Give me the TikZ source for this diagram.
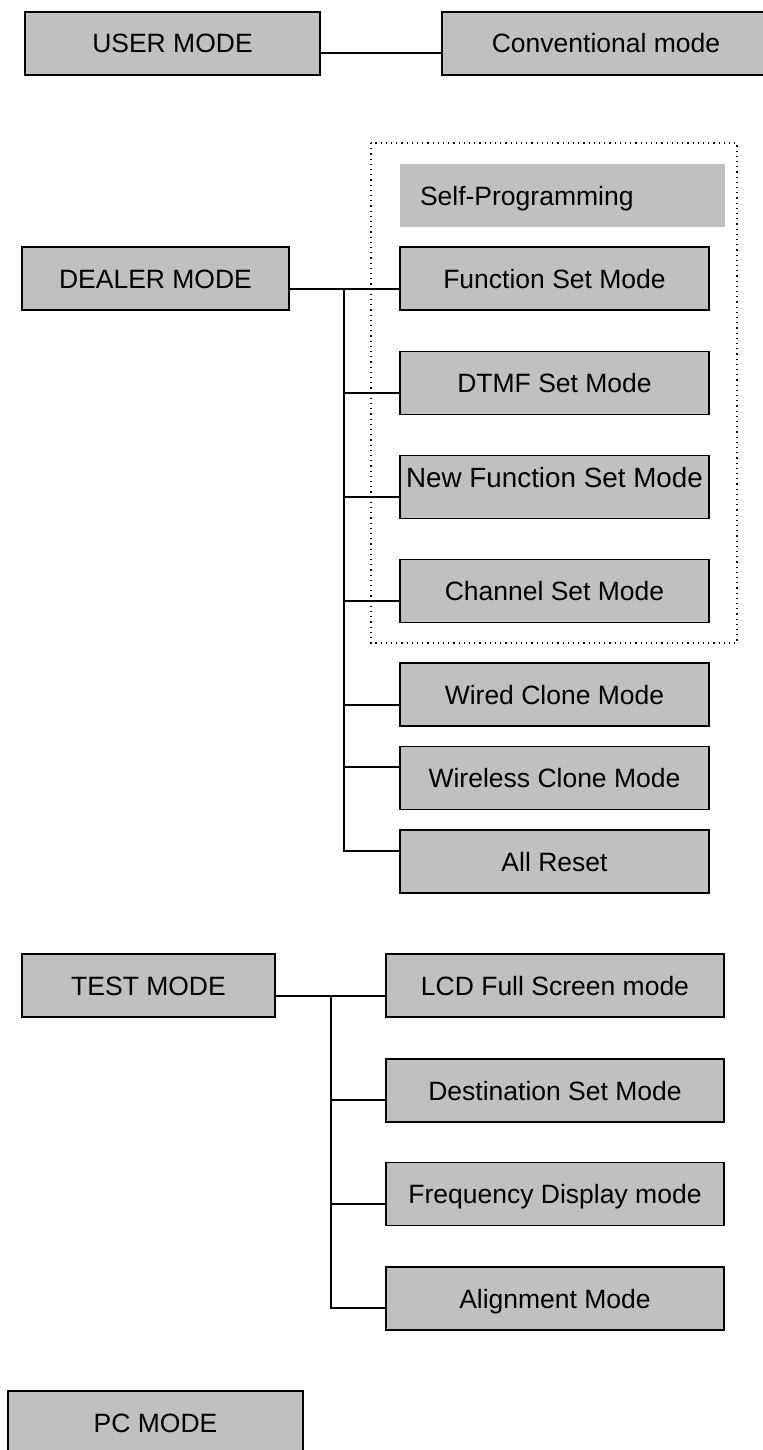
\documentclass[tikz,border=0pt]{standalone}
\usepackage{fontspec}
\setmainfont{Liberation Sans}
\definecolor{boxgray}{HTML}{C0C0C0}
\tikzset{
  box/.style={draw=black, line width=0.7pt, fill=boxgray, inner sep=0pt,
    minimum height=31.5pt, text height=9.5pt, text depth=0pt,
    font=\fontsize{13.25pt}{15pt}\selectfont},
  conn/.style={draw=black, line width=0.6pt},
  group/.style={draw=black, line width=0.6pt, dotted}
}
\begin{document}
\begin{tikzpicture}[x=0.5pt,y=-0.5pt]
\path[use as bounding box, clip] (0,0) rectangle (763,1450);
% dotted group
\draw[group] (371,143) rectangle (737,643);
% user
\node[box, minimum width=147.5pt] (user) at (172.5,43.5) {USER MODE};
\node[box, minimum width=164pt] (conv) at (606,43.5) {Conventional mode};
% dealer
\node[box, minimum width=133.5pt] (dealer) at (155.5,278.5) {DEALER MODE};
\node[fill=boxgray, inner xsep=10pt, inner ysep=0pt, text width=142.5pt, align=left,
  minimum height=31.5pt, text height=9.5pt, text depth=0pt,
  font=\fontsize{13.25pt}{15pt}\selectfont] (self) at (562.5,195.5) {Self-Programming};
\node[box, minimum width=154.5pt] (fs) at (554.5,278.5) {Function Set Mode};
\node[box, minimum width=154.5pt] (dtmf) at (554.5,383) {DTMF Set Mode};
\node[box, minimum width=154.5pt, text height=5pt, text depth=5pt,
  font=\fontsize{13.9pt}{15pt}\selectfont] (nfs) at (554.5,487) {New Function Set Mode};
\node[box, minimum width=154.5pt] (chs) at (554.5,591) {Channel Set Mode};
\node[box, minimum width=154.5pt] (wired) at (554.5,694.5) {Wired Clone Mode};
\node[box, minimum width=154.5pt] (wless) at (554.5,778) {Wireless Clone Mode};
\node[box, minimum width=154.5pt] (reset) at (554.5,861.5) {All Reset};
% test
\node[box, minimum width=126.5pt] (test) at (148.5,985.5) {TEST MODE};
\node[box, minimum width=169pt] (lcd) at (555,985.5) {LCD Full Screen mode};
\node[box, minimum width=169pt] (dest) at (555,1090.5) {Destination Set Mode};
\node[box, minimum width=169pt] (freq) at (555,1194) {Frequency Display mode};
\node[box, minimum width=169pt] (align) at (555,1298.5) {Alignment Mode};
% pc
\node[box, minimum width=147.5pt] (pc) at (155.5,1422.5) {PC MODE};
% connectors
\coordinate (uj) at (0,53);
\draw[conn] (user.east |- uj) -- (conv.west |- uj);
% dealer tree
\coordinate (dtop) at (344,289);
\coordinate (dbot) at (344,851);
\draw[conn] (dealer.east |- dtop) -- (fs.west |- dtop);
\draw[conn] (dtop) -- (dbot) -- (reset.west |- dbot);
\coordinate (d1) at (344,393);
\coordinate (d2) at (344,497);
\coordinate (d3) at (344,601);
\coordinate (d4) at (344,705);
\coordinate (d5) at (344,767);
\draw[conn] (d1) -- (dtmf.west |- d1);
\draw[conn] (d2) -- (nfs.west |- d2);
\draw[conn] (d3) -- (chs.west |- d3);
\draw[conn] (d4) -- (wired.west |- d4);
\draw[conn] (d5) -- (wless.west |- d5);
% test tree
\coordinate (ttop) at (331,996);
\coordinate (tbot) at (331,1308);
\coordinate (t1) at (331,1100);
\coordinate (t2) at (331,1204);
\draw[conn] (test.east |- ttop) -- (lcd.west |- ttop);
\draw[conn] (ttop) -- (tbot) -- (align.west |- tbot);
\draw[conn] (t1) -- (dest.west |- t1);
\draw[conn] (t2) -- (freq.west |- t2);
\end{tikzpicture}
\end{document}
